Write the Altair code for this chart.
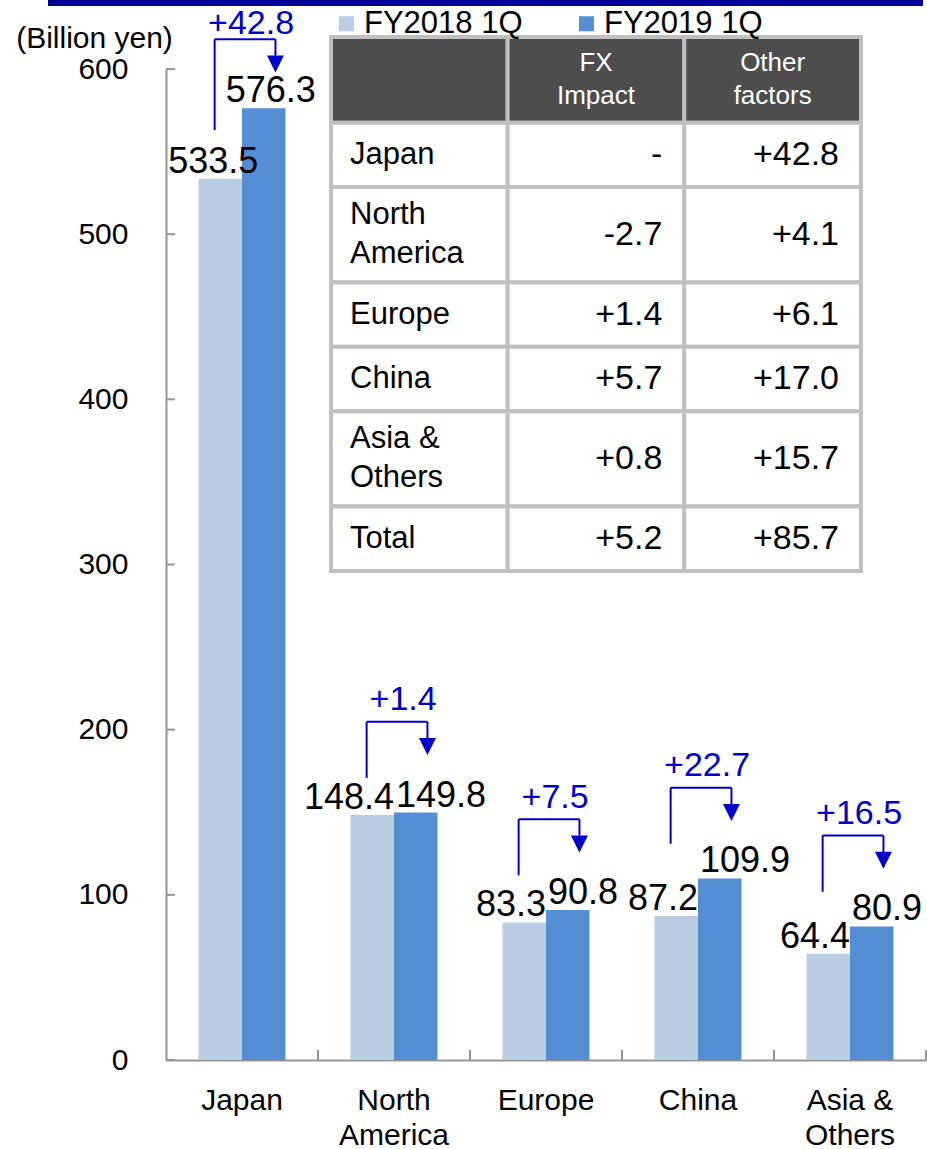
import altair as alt
import pandas as pd

# ---------------- data ----------------
categories = ["Japan", "North\nAmerica", "Europe", "China", "Asia &\nOthers"]
series = ["FY2018 1Q", "FY2019 1Q"]
fy2018 = [533.5, 148.4, 83.3, 87.2, 64.4]
fy2019 = [576.3, 149.8, 90.8, 109.9, 80.9]
y_ticks = [0, 100, 200, 300, 400, 500, 600]

table_header = ["", "FX\nImpact", "Other\nfactors"]
table_rows = ["Japan", "North\nAmerica", "Europe", "China", "Asia &\nOthers", "Total"]
fx_impact = ["-", "-2.7", "+1.4", "+5.7", "+0.8", "+5.2"]
other_factors = ["+42.8", "+4.1", "+6.1", "+17.0", "+15.7", "+85.7"]

# ---------------- style ----------------
W, H = 760, 991
LIGHT, DARK = "#B9CDE5", "#558ED5"
BLUE = "#0000CC"
NAVY = "#000099"
AX = "#969696"
GRID_GRAY = "#C0C0C0"
HEAD_BG = "#4D4D4D"
FONT = "Liberation Sans"

bars_df = pd.DataFrame({
    "region": categories * 2,
    "series": [series[0]] * len(categories) + [series[1]] * len(categories),
    "value": fy2018 + fy2019,
})
ann_df = pd.DataFrame({"region": categories, "idx": list(range(len(categories))),
                       "a": fy2018, "b": fy2019})

band = alt.Scale(domain=categories, paddingInner=0, paddingOuter=0)
yscale = alt.Scale(domain=[0, 600], nice=False, zero=True)
qx = alt.Scale(domain=[0, len(categories)], nice=False, zero=False)

# bars
bars = alt.Chart(bars_df).mark_bar().encode(
    x=alt.X("region:N", sort=categories, scale=band, title=None,
            axis=alt.Axis(labelExpr="split(datum.label, '\\n')", labelAngle=0,
                          labelFontSize=30, labelLineHeight=35, labelPadding=25,
                          ticks=False, tickSize=0, domainColor=AX, domainWidth=2,
                          labelColor="black")),
    xOffset=alt.XOffset("series:N", sort=series,
                        scale=alt.Scale(domain=series, paddingOuter=0.747, paddingInner=0)),
    y=alt.Y("value:Q", scale=yscale,
            axis=alt.Axis(values=y_ticks, ticks=False, tickSize=0, grid=False,
                          domainColor=AX, domainWidth=2, labelFontSize=30,
                          labelPadding=38, labelColor="black",
                          title="(Billion yen)", titleAngle=0, titleX=-72, titleY=-31,
                          titleAlign="center", titleBaseline="middle",
                          titleFontSize=30, titleFontWeight="normal", titleColor="black")),
    color=alt.Color("series:N", sort=series,
                    scale=alt.Scale(domain=series, range=[LIGHT, DARK]),
                    legend=alt.Legend(title=None, orient="none", legendX=165, legendY=-61,
                                      direction="horizontal", symbolType="square",
                                      symbolSize=225, symbolStrokeWidth=0,
                                      labelFontSize=31, labelOffset=2, columnPadding=48,
                                      padding=0, labelColor="black")),
)

# annotation base (quantitative x in category units)
ann = alt.Chart(ann_df).transform_calculate(
    top="min(max(datum.a, datum.b) + 55, 618)",
    collide="abs(datum.b - datum.a) < 30",
).transform_calculate(
    bottom="datum.top - (datum.top > 600 ? 55 : 34)",
    labpos="datum.top + (datum.top > 600 ? 3 : 7)",
    xl="datum.idx + 0.32",
    xr="datum.idx + 0.72",
    xt="datum.idx + 0.56",
    xmid="datum.idx + 0.5",
    xa="datum.idx + 0.357",
    xb="datum.idx + 0.643",
    stem="datum.top - 10",
    head="datum.top - 15",
    label="'+' + format(datum.b - datum.a, '.1f')",
    ta="format(datum.a, '.1f')",
    tb="format(datum.b, '.1f')",
)

# value labels: at the bar boundary when they would collide, centred on bars otherwise
def vlabel(filt, xf, yf, tf, align, dx):
    return ann.transform_filter(filt).mark_text(
        align=align, baseline="alphabetic", dy=-6, dx=dx, fontSize=36, color="black"
    ).encode(
        x=alt.X(f"{xf}:Q", scale=qx, axis=None),
        y=alt.Y(f"{yf}:Q", scale=yscale, axis=None),
        text=f"{tf}:N",
    )

lab_a1 = vlabel("datum.collide", "xmid", "a", "ta", "right", 0)
lab_b1 = vlabel("datum.collide", "xmid", "b", "tb", "left", 2)
lab_a2 = vlabel("!datum.collide", "xa", "a", "ta", "center", -7)
lab_b2 = vlabel("!datum.collide", "xb", "b", "tb", "center", 7)

vert = ann.mark_rule(color=BLUE, strokeWidth=2).encode(
    x=alt.X("xl:Q", scale=qx, axis=None),
    y=alt.Y("bottom:Q", scale=yscale, axis=None), y2="top:Q")
horiz = ann.mark_rule(color=BLUE, strokeWidth=2).encode(
    x=alt.X("xl:Q", scale=qx, axis=None), x2="xr:Q",
    y=alt.Y("top:Q", scale=yscale, axis=None))
stem = ann.mark_rule(color=BLUE, strokeWidth=2).encode(
    x=alt.X("xr:Q", scale=qx, axis=None),
    y=alt.Y("top:Q", scale=yscale, axis=None), y2="stem:Q")
head = ann.mark_point(shape="M-1,-1L1,-1L0,1Z", size=289, filled=True,
                      color=BLUE, opacity=1, strokeWidth=0).encode(
    x=alt.X("xr:Q", scale=qx, axis=None),
    y=alt.Y("head:Q", scale=yscale, axis=None))
difftext = ann.mark_text(color=BLUE, fontSize=34, baseline="alphabetic",
                         align="center").encode(
    x=alt.X("xt:Q", scale=qx, axis=None),
    y=alt.Y("labpos:Q", scale=yscale, axis=None),
    text="label:N")

# inward ticks
ytick_df = pd.DataFrame({"t": y_ticks})
yticks = alt.Chart(ytick_df).mark_rule(color=AX, strokeWidth=2).encode(
    y=alt.Y("t:Q", scale=yscale, axis=None), x=alt.value(0), x2=alt.value(9))
xtick_df = pd.DataFrame({"e": [i + 1 for i in range(len(categories))]})
xticks = alt.Chart(xtick_df).mark_rule(color=AX, strokeWidth=2).encode(
    x=alt.X("e:Q", scale=qx, axis=None), y=alt.value(H), y2=alt.value(H - 10))

# top decorative bar
topbar = alt.Chart(pd.DataFrame({"d": [0]})).mark_rect(color=NAVY).encode(
    x=alt.value(-118), x2=alt.value(757), y=alt.value(-69), y2=alt.value(-63))

# ---------------- table ----------------
row_units = [1.33] + [1.0 + 0.48 * r.count("\n") for r in table_rows]
bounds = [0.0]
for u in row_units:
    bounds.append(bounds[-1] + u)
total = bounds[-1]

cells = []
for r in range(len(row_units)):
    for c in range(3):
        cells.append({"c0": c, "c1": c + 1, "r0": bounds[r], "r1": bounds[r + 1],
                      "header": r == 0})
cells_df = pd.DataFrame(cells)

tx = alt.Scale(domain=[0, 3], range=[165, 695], nice=False, zero=False)
ty = alt.Scale(domain=[0, total], range=[-32, 502], nice=False, zero=False)

cell_rects = alt.Chart(cells_df).mark_rect(stroke=GRID_GRAY, strokeWidth=4).encode(
    x=alt.X("c0:Q", scale=tx, axis=None), x2="c1:Q",
    y=alt.Y("r0:Q", scale=ty, axis=None), y2="r1:Q",
    fill=alt.condition("datum.header", alt.value(HEAD_BG), alt.value("white")),
)

head_df = pd.DataFrame({
    "text": table_header[1:],
    "x": [1.5, 2.5],
    "y": [(bounds[0] + bounds[1]) / 2] * 2,
})
head_txt = alt.Chart(head_df).mark_text(color="white", fontSize=26, lineBreak="\n",
                                        lineHeight=33, align="center",
                                        baseline="middle", dy=-16.5).encode(
    x=alt.X("x:Q", scale=tx, axis=None), y=alt.Y("y:Q", scale=ty, axis=None), text="text:N")

mids = [(bounds[i + 1] + bounds[i + 2]) / 2 for i in range(len(table_rows))]
rowlab_df = pd.DataFrame({"text": table_rows, "x": [0] * len(table_rows), "y": mids})
rowlab_base = alt.Chart(rowlab_df)
rowlab1 = rowlab_base.transform_filter("indexof(datum.text, '\\n') < 0").mark_text(
    color="black", fontSize=31, align="left", baseline="middle", dx=19).encode(
    x=alt.X("x:Q", scale=tx, axis=None), y=alt.Y("y:Q", scale=ty, axis=None), text="text:N")
rowlab2 = rowlab_base.transform_filter("indexof(datum.text, '\\n') >= 0").mark_text(
    color="black", fontSize=31, lineBreak="\n", lineHeight=39, align="left",
    baseline="middle", dx=19, dy=-19.5).encode(
    x=alt.X("x:Q", scale=tx, axis=None), y=alt.Y("y:Q", scale=ty, axis=None), text="text:N")

vals_df = pd.DataFrame({
    "text": fx_impact + other_factors,
    "x": [2] * len(fx_impact) + [3] * len(other_factors),
    "y": mids + mids,
})
vals = alt.Chart(vals_df).mark_text(color="black", fontSize=34, align="right",
                                    baseline="middle", dx=-22).encode(
    x=alt.X("x:Q", scale=tx, axis=None), y=alt.Y("y:Q", scale=ty, axis=None), text="text:N")

chart = alt.layer(
    bars, lab_a1, lab_b1, lab_a2, lab_b2, vert, horiz, stem, head, difftext,
    yticks, xticks, topbar, cell_rects, head_txt, rowlab1, rowlab2, vals,
).resolve_scale(
    x="independent", y="independent"
).properties(
    width=W, height=H,
    autosize=alt.AutoSizeParams(type="none"),
    padding={"left": 166, "top": 69, "right": 1, "bottom": 89},
).configure(font=FONT).configure_view(strokeWidth=0)

chart.save("out.html", embed_options={"renderer": "svg", "actions": False})
